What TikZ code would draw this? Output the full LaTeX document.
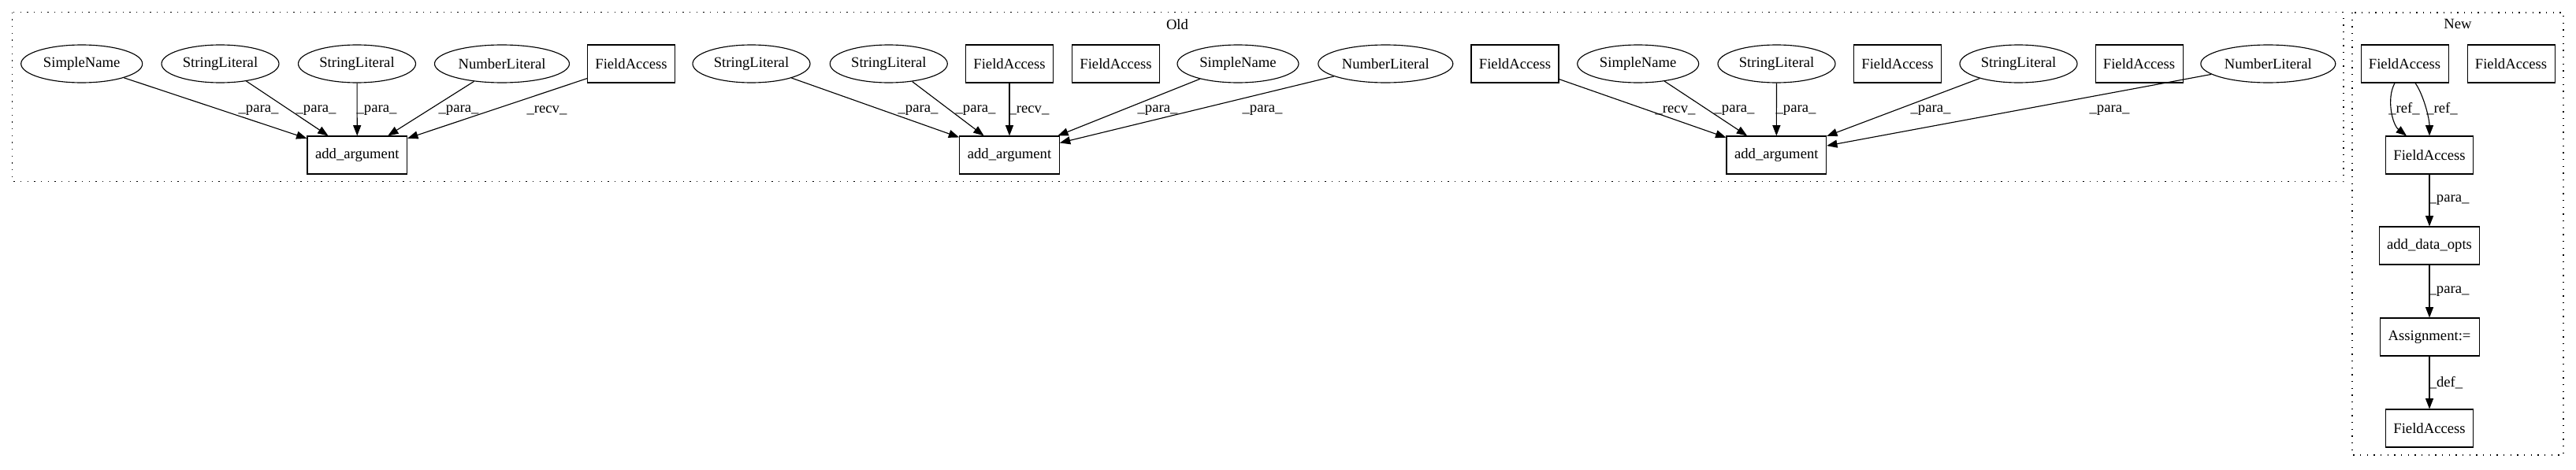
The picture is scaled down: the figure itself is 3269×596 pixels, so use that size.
\documentclass[tikz,border=0pt]{standalone}
\usepackage{fontspec}
\setmainfont{Liberation Serif}
\usetikzlibrary{arrows.meta,shapes.geometric,calc}
\tikzset{
  every node/.style={font=\fontsize{14pt}{16pt}\selectfont},
  ell/.style={draw, ellipse, line width=0.85pt, inner sep=0pt, minimum height=36pt},
  sname/.style={ell, minimum width=115.5pt},
  slit/.style={ell, minimum width=111.75pt},
  nlit/.style={ell, minimum width=128.25pt},
  box/.style={draw, rectangle, line width=0.8pt, inner sep=0pt, minimum height=36pt},
  fabox/.style={box, minimum width=83.25pt},
  wbox/.style={box, minimum width=95pt},
  conn/.style={draw, line width=0.85pt, -{Triangle[length=10pt,width=7.5pt]}},
  lbl/.style={inner sep=0pt},
  cluster/.style={draw, line width=1pt, dash pattern=on 1pt off 5.5pt},
}
\begin{document}
\begin{tikzpicture}[x=0.75pt,y=-0.75pt]
\useasboundingbox (0,0) rectangle (3269,596);
% clusters
\draw[cluster] (15.7,15.7) rectangle (2974,230.7);
\node (oldlbl) at (1494,31) {Old};
\draw[cluster] (2985,16) rectangle (3253,578);
\node (newlbl) at (3119,30) {New};

% Old: group 1
\node[sname] (sn1) at (103.7,81) {SimpleName};
\node[slit] (sl1) at (279.5,81) {StringLiteral};
\node[slit] (sl2) at (453,81) {StringLiteral};
\node[nlit] (nl1) at (637,81) {NumberLiteral};
\node[fabox] (fa1) at (801,81) {FieldAccess};
\node[wbox] (a1) at (453.3,197) {add\_argument};
% group 2
\node[slit] (sl3) at (953.5,81) {StringLiteral};
\node[slit] (sl4) at (1127.8,81) {StringLiteral};
\node[fabox] (fa2) at (1281,81) {FieldAccess};
\node[fabox] (fa3) at (1416,81) {FieldAccess};
\node[sname] (sn2) at (1571,81) {SimpleName};
\node[nlit] (nl2) at (1758.3,81) {NumberLiteral};
\node[wbox] (a2) at (1281,197) {add\_argument};
% group 3
\node[fabox] (fa4) at (1922.5,81) {FieldAccess};
\node[sname] (sn3) at (2078.7,81) {SimpleName};
\node[slit] (sl5) at (2254.5,81) {StringLiteral};
\node[fabox] (fa5) at (2408,81) {FieldAccess};
\node[slit] (sl6) at (2561.5,81) {StringLiteral};
\node[fabox] (fa6) at (2714.5,81) {FieldAccess};
\node[nlit] (nl3) at (2878.3,81) {NumberLiteral};
\node[wbox] (a3) at (2254.3,197) {add\_argument};

% Old edges
\draw[conn] (sn1) -- (a1) node[lbl] at (328,140) {\_para\_};
\draw[conn] (sl1) -- (a1) node[lbl] at (401,140) {\_para\_};
\draw[conn] (sl2) -- (a1) node[lbl] at (478,140) {\_para\_};
\draw[conn] (nl1) -- (a1) node[lbl] at (582,140) {\_para\_};
\draw[conn] (fa1) -- (a1) node[lbl] at (694,140) {\_recv\_};

\draw[conn] (sl3) -- (a2) node[lbl] at (1165,140) {\_para\_};
\draw[conn] (sl4) -- (a2) node[lbl] at (1238,140) {\_para\_};
\draw[conn] (fa2) -- (a2) node[lbl] at (1306,140) {\_recv\_};
\draw[conn] (sn2) -- (a2) node[lbl] at (1469,140) {\_para\_};
\draw[conn] (nl2) -- (a2) node[lbl] at (1602,140) {\_para\_};

\draw[conn] (fa4) -- (a3) node[lbl] at (2126,140) {\_recv\_};
\draw[conn] (sn3) -- (a3) node[lbl] at (2201,140) {\_para\_};
\draw[conn] (sl5) -- (a3) node[lbl] at (2279,140) {\_para\_};
\draw[conn] (sl6) -- (a3) node[lbl] at (2450,140) {\_para\_};
\draw[conn] (nl3) -- (a3) node[lbl] at (2677,140) {\_para\_};

% New
\node[fabox] (nfa1) at (3051.5,81) {FieldAccess};
\node[fabox] (nfa2) at (3186.5,81) {FieldAccess};
\node[fabox] (nfa3) at (3083,197) {FieldAccess};
\node[box, minimum width=95.25pt] (ado) at (3083,312) {add\_data\_opts};
\node[box, minimum width=94.5pt] (asg) at (3083,428) {Assignment:=};
\node[fabox] (nfa4) at (3083,544) {FieldAccess};

\draw[conn] ($(nfa1.south)+(-12.5,0)$) .. controls ($(nfa1.south)+(-23.5,20)$) and ($(nfa3.north)+(-47,-14)$) .. ($(nfa3.north)+(-29,0)$)
  node[lbl] at (3051,138) {\_ref\_};
\draw[conn] ($(nfa1.south)+(13.5,0)$) .. controls ($(nfa1.south)+(24,15)$) and ($(nfa3.north)+(0,-22)$) .. (nfa3.north)
  node[lbl] at (3099,138) {\_ref\_};
\draw[conn] (nfa3) -- (ado) node[lbl] at (3108,254) {\_para\_};
\draw[conn] (ado) -- (asg) node[lbl] at (3108,370) {\_para\_};
\draw[conn] (asg) -- (nfa4) node[lbl] at (3104,486) {\_def\_};
\end{tikzpicture}
\end{document}
